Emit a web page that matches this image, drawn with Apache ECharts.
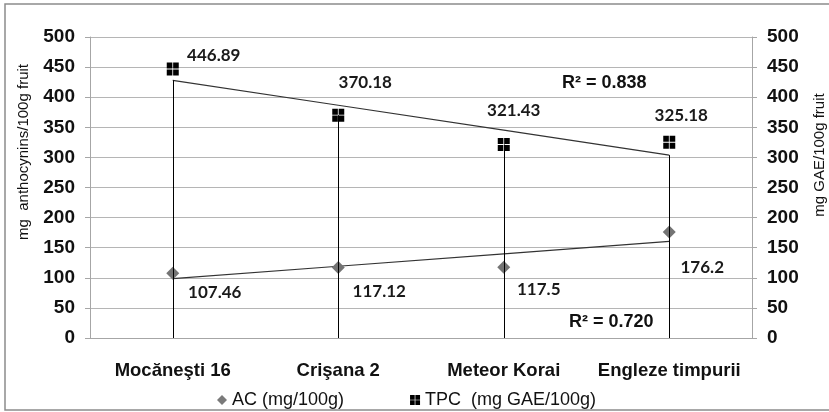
<!DOCTYPE html>
<html>
<head>
<meta charset="utf-8">
<script src="https://cdn.jsdelivr.net/npm/echarts@6/dist/echarts.min.js"></script>
<style>html,body{margin:0;padding:0;background:#fff}#c{width:829px;height:412px}</style>
</head>
<body>
<div id="c"></div>
<script>
var categories = ['Mocăneşti 16', 'Crişana 2', 'Meteor Korai', 'Engleze timpurii'];
var acValues = [107.46, 117.12, 117.5, 176.2];
var tpcValues = [446.89, 370.18, 321.43, 325.18];
var acTrend = [98.6, 119.2, 139.9, 160.6];
var tpcTrend = [428.0, 386.6, 345.2, 303.8];
var yTicks = [0, 50, 100, 150, 200, 250, 300, 350, 400, 450, 500];
var acR2 = 'R² = 0.720';
var tpcR2 = 'R² = 0.838';

// label offsets (styling only)
var tpcLabelOffset = [[41, -13], [27, -33], [10, -34], [12, -27]];
var acLabelOffset = [[42, 19], [41, 24], [35, 22], [33, 36]];

var sqPath = 'path://M0,0h5.6v5.6h-5.6z M6.4,0h5.6v5.6h-5.6z M0,6.4h5.6v5.6h-5.6z M6.4,6.4h5.6v5.6h-5.6z';
var labelFont = {fontFamily: 'Lato', fontWeight: 'bold', fontSize: 17, color: '#1a1a1a'};

var chart = echarts.init(document.getElementById('c'), null, {renderer: 'canvas'});
var axisGray = '#a6a6a6';

function yAxisDef(pos) {
  return {
    type: 'value', position: pos, min: yTicks[0], max: yTicks[yTicks.length - 1], interval: yTicks[1] - yTicks[0],
    axisLine: {show: true, lineStyle: {color: axisGray, width: 1}},
    axisTick: {show: true, length: 5, lineStyle: {color: axisGray}},
    splitLine: {show: pos === 'left', lineStyle: {color: '#b5b5b5', width: 1}},
    axisLabel: {margin: 15, fontFamily: 'Liberation Sans', fontWeight: 'bold', fontSize: 19, color: '#111'}
  };
}

chart.setOption({
  animation: false,
  backgroundColor: '#fff',
  grid: {left: 90, right: 77, top: 37, bottom: 74},
  xAxis: {
    type: 'category', data: categories, boundaryGap: true,
    axisLine: {show: true, lineStyle: {color: axisGray, width: 1}},
    axisTick: {show: false},
    axisLabel: {margin: 23, fontFamily: 'Liberation Sans', fontWeight: 'bold', fontSize: 18.5, color: '#111', interval: 0}
  },
  yAxis: [yAxisDef('left'), yAxisDef('right')],
  legend: {
    left: 212, top: 386, itemWidth: 10, itemHeight: 10, itemGap: 66,
    textStyle: {fontFamily: 'Liberation Sans', fontSize: 18, color: '#111'},
    data: [
      {name: 'AC (mg/100g)', icon: 'diamond', itemStyle: {color: '#7a7a7a'}},
      {name: 'TPC  (mg GAE/100g)', icon: sqPath, itemStyle: {color: '#000'}}
    ]
  },
  graphic: [
    {type: 'rect', shape: {x: 5, y: 4, width: 840, height: 406}, style: {fill: 'none', stroke: '#8c8c8c', lineWidth: 1.5}, silent: true},
    {type: 'text', left: 562, top: 74, style: {text: tpcR2, font: 'bold 18px "Liberation Sans"', fill: '#111'}},
    {type: 'text', left: 569, top: 313, style: {text: acR2, font: 'bold 18px "Liberation Sans"', fill: '#111'}},
    {type: 'text', x: 24, y: 152, rotation: Math.PI / 2, style: {text: 'mg  anthocynins/100g fruit', font: '15px "Liberation Sans"', fill: '#111', align: 'center', verticalAlign: 'middle'}},
    {type: 'text', x: 820, y: 155, rotation: Math.PI / 2, style: {text: 'mg GAE/100g fruit', font: '15px "Liberation Sans"', fill: '#111', align: 'center', verticalAlign: 'middle'}}
  ],
  series: [
    {
      name: 'drop', type: 'line', data: [], z: 1, silent: true,
      markLine: {
        silent: true, symbol: 'none', animation: false,
        lineStyle: {color: '#000', width: 1, type: 'solid'},
        label: {show: false},
        data: categories.map(function (c, i) {
          return [{coord: [i, Math.min(tpcValues[i], tpcTrend[i])]}, {coord: [i, 0]}];
        })
      }
    },
    {
      name: 'tpcTrend', type: 'line', data: tpcTrend, symbol: 'none', z: 2, silent: true,
      lineStyle: {color: '#333', width: 1.2}
    },
    {
      name: 'acTrend', type: 'line', data: acTrend, symbol: 'none', z: 2, silent: true,
      lineStyle: {color: '#333', width: 1.2}
    },
    {
      name: 'AC (mg/100g)', type: 'line', z: 3,
      lineStyle: {width: 0, opacity: 0},
      symbol: 'diamond', symbolSize: 13,
      itemStyle: {color: '#747474'},
      data: acValues.map(function (v, i) {
        return {value: v, label: {offset: acLabelOffset[i]}};
      }),
      label: Object.assign({show: true, position: 'inside', align: 'center', verticalAlign: 'middle'}, labelFont)
    },
    {
      name: 'TPC  (mg GAE/100g)', type: 'line', z: 3,
      lineStyle: {width: 0, opacity: 0},
      symbol: sqPath, symbolSize: [12, 13],
      itemStyle: {color: '#000'},
      data: tpcValues.map(function (v, i) {
        return {value: v, label: {offset: tpcLabelOffset[i]}};
      }),
      label: Object.assign({show: true, position: 'inside', align: 'center', verticalAlign: 'middle'}, labelFont)
    }
  ]
});
</script>
</body>
</html>
